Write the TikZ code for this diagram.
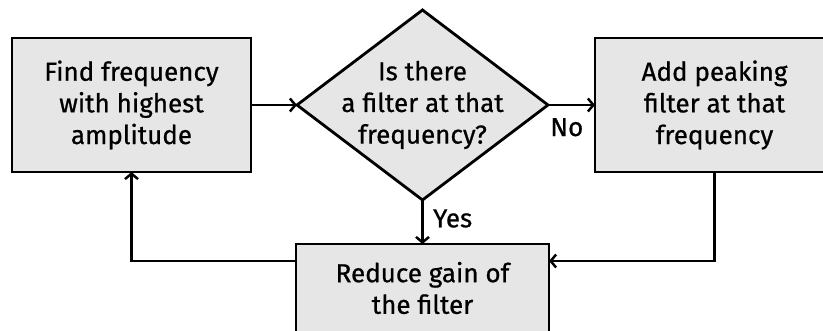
\documentclass[tikz,border=0pt]{standalone}
\usepackage{fontspec}
\setmainfont{Fira Sans}[FakeBold=0.7]
\definecolor{BoxGrey}{HTML}{E6E6E6}
\usetikzlibrary{positioning,shapes.geometric,arrows.meta}
\begin{document}
\begin{tikzpicture}[
      b/.style={rectangle, draw=black, fill=BoxGrey, line width=1.6pt, outer sep=0pt,
        minimum width=4.78cm, minimum height=2.68cm, align=center,
        font=\fontsize{14.8}{18}\selectfont},
      d/.style={diamond, draw=black, fill=BoxGrey, line width=1.6pt, outer sep=0pt,
        inner sep=0pt, minimum width=5.02cm, minimum height=3.8cm},
      t/.style={align=center, font=\fontsize{14.8}{18}\selectfont},
      lbl/.style={font=\fontsize{14.8}{18}\selectfont},
      flow/.style={-{Straight Barb[length=1.1mm,width=2.6mm]}, line width=1.4pt}]
      \useasboundingbox (0,0) rectangle (16.46,6.6);
      \clip (0,0) rectangle (16.46,6.6);
      \node[b] (find) at (2.63,4.5) {Find frequency\\with highest\\amplitude};
      \node[d, right=0.92cm of find] (dec) {};
      \node[t] (dectxt) at (dec) {Is there\\a filter at that\\frequency?};
      \node[b, right=0.94cm of dec] (add) {Add peaking\\filter at that\\frequency};
      \node[b, below=0.88cm of dec, minimum width=5.06cm, minimum height=1.76cm] (red)
        {Reduce gain of\\the filter};
      \draw[flow] (find) -- (dec);
      \draw[flow] (dec) -- node[lbl, below=0.12cm, pos=0.4] (no) {No} (add);
      \draw[flow] (dec) -- node[lbl, right=2pt, pos=0.42] (yes) {Yes} (red);
      \draw[flow] (add.south) |- ([yshift=-0.34cm]red.north east);
      \draw[flow] ([yshift=-0.34cm]red.north west) -| (find.south);
    \end{tikzpicture}
\end{document}
